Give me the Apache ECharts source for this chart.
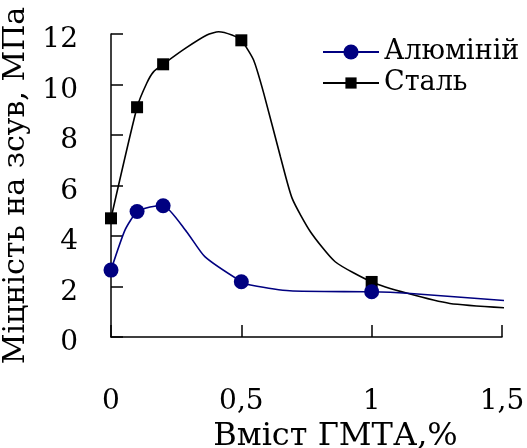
<!DOCTYPE html>
<html>
<head>
<meta charset="utf-8">
<script src="https://cdn.jsdelivr.net/npm/echarts@6/dist/echarts.min.js"></script>
<style>
  html, body { margin: 0; padding: 0; background: #fff; }
  #chart { width: 527px; height: 448px; }
</style>
</head>
<body>
<div id="chart"></div>
<script>
// Shear strength vs. HMTA content
const seriesNames = ['Алюміній', 'Сталь'];
const xTicks = [0, 0.5, 1, 1.5];
const xTickLabels = ['0', '0,5', '1', '1,5'];
const yTicks = [0, 2, 4, 6, 8, 10, 12];

// Measured points (shown with markers)
const aluminiumX = [0, 0.1, 0.2, 0.5, 1.0];
const aluminiumY = [2.65, 4.97, 5.2, 2.19, 1.79];
const steelX = [0, 0.1, 0.2, 0.5, 1.0];
const steelY = [4.7, 9.1, 10.8, 11.75, 2.18];

// Intermediate curve points (no markers)
const aluminiumCurveX = [0.054, 0.15, 0.29, 0.36, 0.535, 0.686, 1.137, 1.54];
const aluminiumCurveY = [4.24, 5.15, 4.17, 3.18, 2.06, 1.83, 1.73, 1.42];
const steelCurveX = [0.137, 0.163, 0.285, 0.368, 0.413, 0.464, 0.547, 0.586, 0.65, 0.695, 0.765, 0.86, 1.137, 1.3, 1.54];
const steelCurveY = [10.05, 10.5, 11.43, 11.96, 12.09, 11.96, 10.97, 9.65, 7.14, 5.49, 4.17, 2.98, 1.73, 1.33, 1.14];

function buildData(mx, my, cx, cy) {
  const pts = [];
  mx.forEach((x, i) => pts.push({ value: [x, my[i]] }));
  cx.forEach((x, i) => pts.push({ value: [x, cy[i]], symbol: 'none' }));
  pts.sort((a, b) => a.value[0] - b.value[0]);
  return pts;
}

const FONT = 'DejaVu Serif';
const txt = (size, extra) => Object.assign({ fontFamily: FONT, fontSize: size, color: '#000', fontWeight: 'normal' }, extra || {});
const chart = echarts.init(document.getElementById('chart'), null, { renderer: 'canvas' });

chart.setOption({
  animation: false,
  backgroundColor: '#fff',
  textStyle: txt(28),
  grid: { left: 111, top: 34, right: 25, bottom: 111, containLabel: false, outerBoundsMode: 'none' },
  legend: [
    {
      left: 317, top: 32,
      itemWidth: 56, itemHeight: 19,
      data: [seriesNames[0]],
      textStyle: txt(27, { lineHeight: 30 })
    },
    {
      left: 317, top: 63,
      itemWidth: 56, itemHeight: 14,
      data: [seriesNames[1]],
      textStyle: txt(27, { lineHeight: 30 })
    }
  ],
  xAxis: {
    type: 'value',
    min: 0,
    max: 1.5,
    interval: 0.5,
    name: 'Вміст ГМТА,%',
    nameLocation: 'middle',
    nameGap: 78,
    nameTextStyle: txt(32, { padding: [0, 0, 0, 58] }),
    axisLine: { show: true, lineStyle: { color: '#000', width: 1.5 } },
    axisTick: { show: true, inside: true, length: 12, lineStyle: { color: '#000', width: 1.5 } },
    axisLabel: txt(28, {
      margin: 51,
      formatter: v => {
        const i = xTicks.findIndex(t => Math.abs(t - v) < 1e-9);
        return i >= 0 ? xTickLabels[i] : '';
      }
    }),
    splitLine: { show: false }
  },
  yAxis: {
    type: 'value',
    min: yTicks[0],
    max: yTicks[yTicks.length - 1],
    interval: 2,
    name: 'Міцність на зсув, МПа',
    nameLocation: 'middle',
    nameRotate: 90,
    nameGap: 71,
    nameTextStyle: txt(30),
    axisLine: { show: true, lineStyle: { color: '#000', width: 1.5 } },
    axisTick: { show: true, inside: true, length: 12, lineStyle: { color: '#000', width: 1.5 } },
    axisLabel: txt(28, { margin: 33, verticalAlign: 'top', lineHeight: 12 }),
    splitLine: { show: false }
  },
  series: [
    {
      name: seriesNames[0],
      type: 'line',
      clip: false,
      smooth: 0.2,
      symbol: 'circle',
      symbolSize: 15,
      color: '#000080',
      lineStyle: { color: '#000080', width: 1.6 },
      itemStyle: { color: '#000080' },
      data: buildData(aluminiumX, aluminiumY, aluminiumCurveX, aluminiumCurveY),
      z: 3
    },
    {
      name: seriesNames[1],
      type: 'line',
      clip: false,
      smooth: 0.2,
      symbol: 'rect',
      symbolSize: 12,
      color: '#000',
      lineStyle: { color: '#000', width: 1.6 },
      itemStyle: { color: '#000' },
      data: buildData(steelX, steelY, steelCurveX, steelCurveY),
      z: 2
    }
  ]
});
</script>
</body>
</html>
